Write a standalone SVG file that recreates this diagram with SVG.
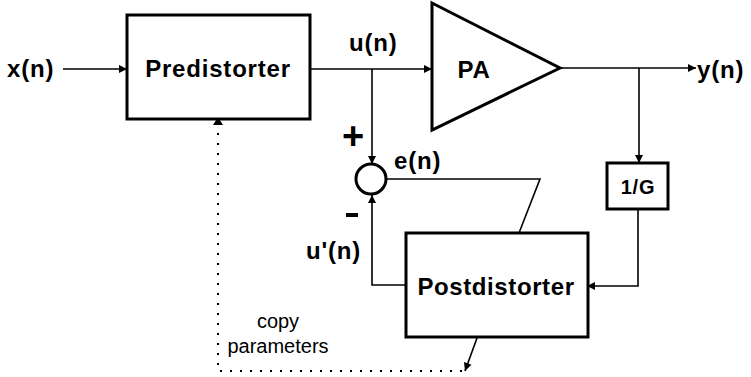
<svg xmlns="http://www.w3.org/2000/svg" width="751" height="377" viewBox="0 0 751 377">
<defs>
<style>
.box{fill:#fff;stroke:#000;stroke-width:3}
.ln{fill:none;stroke:#000;stroke-width:1.6}
.dot{fill:none;stroke:#000;stroke-width:2;stroke-dasharray:2 8}
.b{font-family:"Liberation Sans",Arial,sans-serif;font-weight:bold;fill:#000;font-size:24px;letter-spacing:0.8px}
.r{font-family:"Liberation Sans",Arial,sans-serif;fill:#000;font-size:20px}
</style>
<marker id="ah" markerWidth="10" markerHeight="10" refX="9" refY="5" orient="auto" markerUnits="userSpaceOnUse">
<path d="M1,1 L9,5 L1,9 Z" fill="#000"/>
</marker>
</defs>
<g id="connectors">
<line class="ln" x1="63" y1="69" x2="127" y2="69" marker-end="url(#ah)"/>
<line class="ln" x1="310" y1="69" x2="432" y2="69" marker-end="url(#ah)"/>
<line class="ln" x1="372" y1="69" x2="372" y2="164" marker-end="url(#ah)"/>
<line class="ln" x1="560" y1="68" x2="696" y2="68" marker-end="url(#ah)"/>
<line class="ln" x1="639" y1="68" x2="639" y2="163" marker-end="url(#ah)"/>
<polyline class="ln" points="638,209 638,286 587,286" marker-end="url(#ah)"/>
<polyline class="ln" points="387,179 540,179 519,233"/>
<polyline class="ln" points="406,285 372,285 372,195" marker-end="url(#ah)"/>
<line class="ln" x1="477" y1="338" x2="465" y2="371" marker-end="url(#ah)"/>
<polyline class="dot" points="462,371 218,371 218,126"/>
<path d="M213,125 L218,117 L223,125 Z" fill="#000"/>
</g>
<g id="input"><text class="b" x="7" y="77">x(n)</text></g>
<g id="predistorter">
<rect class="box" x="127" y="15" width="183" height="104"/>
<text class="b" x="218" y="77" text-anchor="middle">Predistorter</text>
</g>
<g id="un-label"><text class="b" x="349" y="51">u(n)</text></g>
<g id="pa">
<polygon class="box" points="432,3 560,68 432,130"/>
<text class="b" x="474" y="78" text-anchor="middle">PA</text>
</g>
<g id="output"><text class="b" x="697" y="78">y(n)</text></g>
<g id="sum">
<circle cx="371" cy="179" r="15" fill="#fff" stroke="#000" stroke-width="3"/>
<text class="b" x="353" y="149" style="font-size:38px;letter-spacing:0" text-anchor="middle">+</text>
<rect x="346" y="213" width="12" height="4" fill="#000"/>
</g>
<g id="en-label"><text class="b" x="394" y="169">e(n)</text></g>
<g id="upn-label"><text class="b" x="306" y="259">u'(n)</text></g>
<g id="gain">
<rect class="box" x="607" y="163" width="61" height="46"/>
<text class="b" x="638" y="194" style="font-size:20px" text-anchor="middle">1/G</text>
</g>
<g id="postdistorter">
<rect class="box" x="406" y="233" width="182" height="104"/>
<text class="b" x="496" y="295" style="letter-spacing:0.6px" text-anchor="middle">Postdistorter</text>
</g>
<g id="copy-label">
<text class="r" x="278" y="328" text-anchor="middle">copy</text>
<text class="r" x="278" y="353" text-anchor="middle">parameters</text>
</g>
</svg>
